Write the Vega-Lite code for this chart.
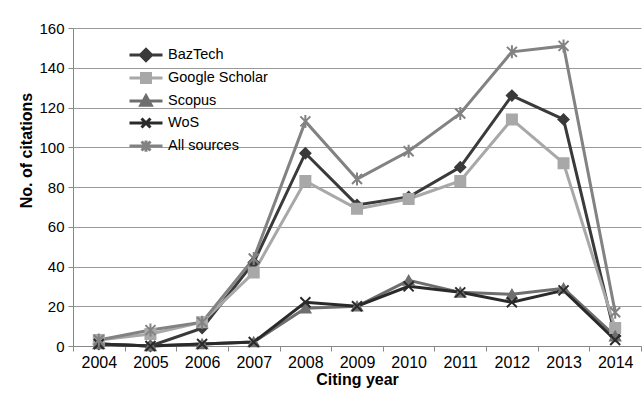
{
  "$schema": "https://vega.github.io/schema/vega-lite/v6.json",
  "width": 568,
  "height": 318,
  "autosize": {"type": "none"},
  "padding": {"left": 73, "top": 28, "right": 1, "bottom": 55},
  "background": "white",
  "config": {
    "view": {"stroke": null},
    "font": "Liberation Sans",
    "axis": {"labelFont": "Liberation Sans", "titleFont": "Liberation Sans", "labelColor": "#000", "titleColor": "#000"}
  },
  "data": {
    "values": [
      {"year": "2004", "series": "BazTech", "n": 1},
      {"year": "2005", "series": "BazTech", "n": 0},
      {"year": "2006", "series": "BazTech", "n": 9},
      {"year": "2007", "series": "BazTech", "n": 42},
      {"year": "2008", "series": "BazTech", "n": 97},
      {"year": "2009", "series": "BazTech", "n": 71},
      {"year": "2010", "series": "BazTech", "n": 75},
      {"year": "2011", "series": "BazTech", "n": 90},
      {"year": "2012", "series": "BazTech", "n": 126},
      {"year": "2013", "series": "BazTech", "n": 114},
      {"year": "2014", "series": "BazTech", "n": 5},
      {"year": "2004", "series": "Google Scholar", "n": 3},
      {"year": "2005", "series": "Google Scholar", "n": 6},
      {"year": "2006", "series": "Google Scholar", "n": 12},
      {"year": "2007", "series": "Google Scholar", "n": 37},
      {"year": "2008", "series": "Google Scholar", "n": 83},
      {"year": "2009", "series": "Google Scholar", "n": 69},
      {"year": "2010", "series": "Google Scholar", "n": 74},
      {"year": "2011", "series": "Google Scholar", "n": 83},
      {"year": "2012", "series": "Google Scholar", "n": 114},
      {"year": "2013", "series": "Google Scholar", "n": 92},
      {"year": "2014", "series": "Google Scholar", "n": 9},
      {"year": "2004", "series": "Scopus", "n": 1},
      {"year": "2005", "series": "Scopus", "n": 0},
      {"year": "2006", "series": "Scopus", "n": 1},
      {"year": "2007", "series": "Scopus", "n": 2},
      {"year": "2008", "series": "Scopus", "n": 19},
      {"year": "2009", "series": "Scopus", "n": 20},
      {"year": "2010", "series": "Scopus", "n": 33},
      {"year": "2011", "series": "Scopus", "n": 27},
      {"year": "2012", "series": "Scopus", "n": 26},
      {"year": "2013", "series": "Scopus", "n": 29},
      {"year": "2014", "series": "Scopus", "n": 5},
      {"year": "2004", "series": "WoS", "n": 1},
      {"year": "2005", "series": "WoS", "n": 0},
      {"year": "2006", "series": "WoS", "n": 1},
      {"year": "2007", "series": "WoS", "n": 2},
      {"year": "2008", "series": "WoS", "n": 22},
      {"year": "2009", "series": "WoS", "n": 20},
      {"year": "2010", "series": "WoS", "n": 30},
      {"year": "2011", "series": "WoS", "n": 27},
      {"year": "2012", "series": "WoS", "n": 22},
      {"year": "2013", "series": "WoS", "n": 28},
      {"year": "2014", "series": "WoS", "n": 3},
      {"year": "2004", "series": "All sources", "n": 3},
      {"year": "2005", "series": "All sources", "n": 8},
      {"year": "2006", "series": "All sources", "n": 12},
      {"year": "2007", "series": "All sources", "n": 44},
      {"year": "2008", "series": "All sources", "n": 113},
      {"year": "2009", "series": "All sources", "n": 84},
      {"year": "2010", "series": "All sources", "n": 98},
      {"year": "2011", "series": "All sources", "n": 117},
      {"year": "2012", "series": "All sources", "n": 148},
      {"year": "2013", "series": "All sources", "n": 151},
      {"year": "2014", "series": "All sources", "n": 17}
    ]
  },
  "encoding": {
    "x": {
      "field": "year", "type": "ordinal",
      "scale": {"paddingInner": 0, "paddingOuter": 0},
      "axis": {
        "title": "Citing year", "titleFontSize": 16, "titleFontWeight": "bold", "titlePadding": 1,
        "labelFontSize": 16, "labelAngle": 0, "labelPadding": 3,
        "tickBand": "extent", "tickSize": 5, "tickColor": "#888", "domainColor": "#888", "grid": false
      }
    },
    "y": {
      "field": "n", "type": "quantitative",
      "scale": {"domain": [0, 160], "nice": false},
      "axis": {
        "title": "No. of citations", "titleFontSize": 16, "titleFontWeight": "bold",
        "titleX": -47, "titleY": 122, "titleBaseline": "middle", "titleAlign": "center",
        "labelFontSize": 15, "labelPadding": 4, "values": [0, 20, 40, 60, 80, 100, 120, 140, 160],
        "tickSize": 5, "tickColor": "#888", "domainColor": "#888",
        "grid": true, "gridColor": "#9a9a9a", "gridWidth": 1
      }
    },
    "color": {
      "field": "series", "type": "nominal",
      "scale": {
        "domain": ["BazTech", "Google Scholar", "Scopus", "WoS", "All sources"],
        "range": ["#3a3a3a", "#a8a8a8", "#6e6e6e", "#2a2a2a", "#828282"]
      },
      "legend": {
        "orient": "none", "legendX": 64, "legendY": 18, "title": null,
        "labelFontSize": 14.5, "labelFont": "Liberation Sans", "labelColor": "#000", "rowPadding": 0, "symbolSize": 225,
        "labelOffset": 13, "symbolStrokeWidth": 3,
        "encode": {
          "symbols": {
            "update": {
              "shape": {"signal": "datum.value === 'BazTech' ? 'M-2.2,0L2.2,0M-0.75,0L0,-0.75L0.75,0L0,0.75Z' : datum.value === 'Google Scholar' ? 'M-2.2,0L2.2,0M-0.6,-0.6L0.6,-0.6L0.6,0.6L-0.6,0.6Z' : datum.value === 'Scopus' ? 'M-2.2,0L2.2,0M-0.7,0.55L0,-0.7L0.7,0.55Z' : datum.value === 'WoS' ? 'M-2.2,0L2.2,0M-0.6,-0.6L0.6,0.6M-0.6,0.6L0.6,-0.6' : 'M-2.2,0L2.2,0M-0.6,-0.6L0.6,0.6M-0.6,0.6L0.6,-0.6M0,-0.75L0,0.75'"},
              "strokeWidth": {"value": 3},
              "opacity": {"value": 1}
            }
          }
        }
      }
    }
  },
  "layer": [
    {
      "mark": {"type": "line", "strokeWidth": 3},
      "encoding": {"detail": {"field": "series"}}
    },
    {
      "mark": {"type": "point", "filled": true, "size": 100, "strokeWidth": 2, "opacity": 1},
      "encoding": {
        "stroke": {
          "field": "series", "type": "nominal",
          "scale": {
            "domain": ["BazTech", "Google Scholar", "Scopus", "WoS", "All sources"],
            "range": ["#3a3a3a", "#a8a8a8", "#6e6e6e", "#2a2a2a", "#828282"]
          },
          "legend": null
        },
        "shape": {
          "field": "series", "type": "nominal",
          "scale": {
            "domain": ["All sources", "WoS", "Scopus", "Google Scholar", "BazTech"],
            "range": ["M-1,-1L1,1M-1,1L1,-1M0,-1.3L0,1.3", "M-1,-1L1,1M-1,1L1,-1", "triangle-up", "square", "diamond"]
          },
          "legend": null
        }
      }
    }
  ]
}
